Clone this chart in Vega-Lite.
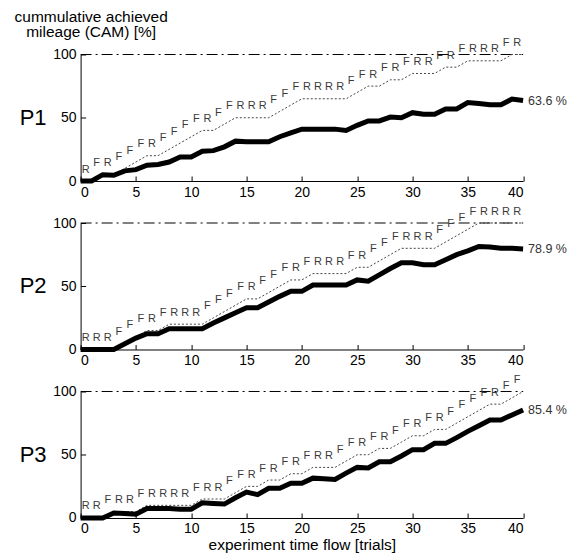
{
  "$schema": "https://vega.github.io/schema/vega-lite/v6.json",
  "background": "white",
  "padding": {"left": 13.6, "top": 9.5, "right": 5, "bottom": 5},
  "config": {
    "font": "Liberation Sans",
    "view": {"stroke": null},
    "axis": {"labelFont": "Liberation Sans", "labelFontSize": 14, "labelColor": "#000", "domainColor": "#000", "tickColor": "#000", "grid": false, "titleFont": "Liberation Sans", "titleFontWeight": "normal", "titleColor": "#000", "tickSize": -5, "domainWidth": 1, "tickWidth": 1}
  },
  "title": {"text": ["cummulative achieved", "mileage (CAM) [%]"], "anchor": "start", "align": "center", "fontSize": 15.5, "fontWeight": "normal", "font": "Liberation Sans", "color": "#000", "lineHeight": 16, "dx": 72, "offset": -4},
  "bounds": "flush",
  "spacing": 41.5,
  "datasets": {
    "d": [
      {"p":"P1","t":0,"a":0,"o":0},
      {"p":"P1","t":1,"a":0,"o":0,"l":"R"},
      {"p":"P1","t":2,"a":5,"o":5,"l":"F"},
      {"p":"P1","t":3,"a":4.5,"o":5,"l":"R"},
      {"p":"P1","t":4,"a":8,"o":10,"l":"F"},
      {"p":"P1","t":5,"a":9,"o":15,"l":"F"},
      {"p":"P1","t":6,"a":12.5,"o":20,"l":"F"},
      {"p":"P1","t":7,"a":13,"o":20,"l":"R"},
      {"p":"P1","t":8,"a":15,"o":25,"l":"F"},
      {"p":"P1","t":9,"a":19,"o":30,"l":"F"},
      {"p":"P1","t":10,"a":19,"o":35,"l":"F"},
      {"p":"P1","t":11,"a":23.5,"o":40,"l":"F"},
      {"p":"P1","t":12,"a":24,"o":40,"l":"R"},
      {"p":"P1","t":13,"a":27,"o":45,"l":"F"},
      {"p":"P1","t":14,"a":31.5,"o":50,"l":"F"},
      {"p":"P1","t":15,"a":31,"o":50,"l":"R"},
      {"p":"P1","t":16,"a":31,"o":50,"l":"R"},
      {"p":"P1","t":17,"a":31,"o":50,"l":"R"},
      {"p":"P1","t":18,"a":35,"o":55,"l":"F"},
      {"p":"P1","t":19,"a":38,"o":60,"l":"F"},
      {"p":"P1","t":20,"a":41,"o":65,"l":"F"},
      {"p":"P1","t":21,"a":41,"o":65,"l":"R"},
      {"p":"P1","t":22,"a":41,"o":65,"l":"R"},
      {"p":"P1","t":23,"a":41,"o":65,"l":"R"},
      {"p":"P1","t":24,"a":40,"o":65,"l":"R"},
      {"p":"P1","t":25,"a":44,"o":70,"l":"F"},
      {"p":"P1","t":26,"a":47.5,"o":75,"l":"F"},
      {"p":"P1","t":27,"a":47.5,"o":75,"l":"R"},
      {"p":"P1","t":28,"a":50.5,"o":80,"l":"F"},
      {"p":"P1","t":29,"a":50,"o":80,"l":"R"},
      {"p":"P1","t":30,"a":54,"o":85,"l":"F"},
      {"p":"P1","t":31,"a":52.7,"o":85,"l":"R"},
      {"p":"P1","t":32,"a":52.7,"o":85,"l":"R"},
      {"p":"P1","t":33,"a":57,"o":90,"l":"F"},
      {"p":"P1","t":34,"a":57,"o":90,"l":"R"},
      {"p":"P1","t":35,"a":62,"o":95,"l":"F"},
      {"p":"P1","t":36,"a":61.2,"o":95,"l":"R"},
      {"p":"P1","t":37,"a":60.3,"o":95,"l":"R"},
      {"p":"P1","t":38,"a":60.3,"o":95,"l":"R"},
      {"p":"P1","t":39,"a":64.8,"o":100,"l":"F"},
      {"p":"P1","t":40,"a":63.6,"o":100,"l":"R","e":"63.6 %"},
      {"p":"P2","t":0,"a":0,"o":0},
      {"p":"P2","t":1,"a":0,"o":0,"l":"R"},
      {"p":"P2","t":2,"a":0,"o":0,"l":"R"},
      {"p":"P2","t":3,"a":0,"o":0,"l":"R"},
      {"p":"P2","t":4,"a":4.5,"o":5,"l":"F"},
      {"p":"P2","t":5,"a":9,"o":10,"l":"F"},
      {"p":"P2","t":6,"a":12.5,"o":15,"l":"F"},
      {"p":"P2","t":7,"a":12.5,"o":15,"l":"R"},
      {"p":"P2","t":8,"a":16.5,"o":20,"l":"F"},
      {"p":"P2","t":9,"a":16.5,"o":20,"l":"R"},
      {"p":"P2","t":10,"a":16.5,"o":20,"l":"R"},
      {"p":"P2","t":11,"a":16.5,"o":20,"l":"R"},
      {"p":"P2","t":12,"a":21,"o":25,"l":"F"},
      {"p":"P2","t":13,"a":25,"o":30,"l":"F"},
      {"p":"P2","t":14,"a":29,"o":35,"l":"F"},
      {"p":"P2","t":15,"a":33,"o":40,"l":"F"},
      {"p":"P2","t":16,"a":33,"o":40,"l":"R"},
      {"p":"P2","t":17,"a":37.5,"o":45,"l":"F"},
      {"p":"P2","t":18,"a":42,"o":50,"l":"F"},
      {"p":"P2","t":19,"a":46,"o":55,"l":"F"},
      {"p":"P2","t":20,"a":46,"o":55,"l":"R"},
      {"p":"P2","t":21,"a":51,"o":60,"l":"F"},
      {"p":"P2","t":22,"a":51,"o":60,"l":"R"},
      {"p":"P2","t":23,"a":51,"o":60,"l":"R"},
      {"p":"P2","t":24,"a":51,"o":60,"l":"R"},
      {"p":"P2","t":25,"a":55,"o":65,"l":"F"},
      {"p":"P2","t":26,"a":54,"o":65,"l":"R"},
      {"p":"P2","t":27,"a":59,"o":70,"l":"F"},
      {"p":"P2","t":28,"a":64,"o":75,"l":"F"},
      {"p":"P2","t":29,"a":68.5,"o":80,"l":"F"},
      {"p":"P2","t":30,"a":68.5,"o":80,"l":"R"},
      {"p":"P2","t":31,"a":67,"o":80,"l":"R"},
      {"p":"P2","t":32,"a":67,"o":80,"l":"R"},
      {"p":"P2","t":33,"a":71,"o":85,"l":"F"},
      {"p":"P2","t":34,"a":75,"o":90,"l":"F"},
      {"p":"P2","t":35,"a":78,"o":95,"l":"F"},
      {"p":"P2","t":36,"a":81.5,"o":100,"l":"F"},
      {"p":"P2","t":37,"a":81,"o":100,"l":"R"},
      {"p":"P2","t":38,"a":80,"o":100,"l":"R"},
      {"p":"P2","t":39,"a":80,"o":100,"l":"R"},
      {"p":"P2","t":40,"a":79.5,"o":100,"l":"R","e":"78.9 %"},
      {"p":"P3","t":0,"a":0,"o":0},
      {"p":"P3","t":1,"a":0,"o":0,"l":"R"},
      {"p":"P3","t":2,"a":0,"o":0,"l":"R"},
      {"p":"P3","t":3,"a":4,"o":5,"l":"F"},
      {"p":"P3","t":4,"a":3.5,"o":5,"l":"R"},
      {"p":"P3","t":5,"a":3,"o":5,"l":"R"},
      {"p":"P3","t":6,"a":7.5,"o":10,"l":"F"},
      {"p":"P3","t":7,"a":7.5,"o":10,"l":"R"},
      {"p":"P3","t":8,"a":7.5,"o":10,"l":"R"},
      {"p":"P3","t":9,"a":7,"o":10,"l":"R"},
      {"p":"P3","t":10,"a":7,"o":10,"l":"R"},
      {"p":"P3","t":11,"a":12,"o":15,"l":"F"},
      {"p":"P3","t":12,"a":11.5,"o":15,"l":"R"},
      {"p":"P3","t":13,"a":11,"o":15,"l":"R"},
      {"p":"P3","t":14,"a":16,"o":20,"l":"F"},
      {"p":"P3","t":15,"a":20.5,"o":25,"l":"F"},
      {"p":"P3","t":16,"a":18.5,"o":25,"l":"R"},
      {"p":"P3","t":17,"a":23.5,"o":30,"l":"F"},
      {"p":"P3","t":18,"a":23.5,"o":30,"l":"R"},
      {"p":"P3","t":19,"a":27.5,"o":35,"l":"F"},
      {"p":"P3","t":20,"a":27.5,"o":35,"l":"R"},
      {"p":"P3","t":21,"a":31.5,"o":40,"l":"F"},
      {"p":"P3","t":22,"a":31,"o":40,"l":"R"},
      {"p":"P3","t":23,"a":30.5,"o":40,"l":"R"},
      {"p":"P3","t":24,"a":35.5,"o":45,"l":"F"},
      {"p":"P3","t":25,"a":40,"o":50,"l":"F"},
      {"p":"P3","t":26,"a":39.5,"o":50,"l":"R"},
      {"p":"P3","t":27,"a":44.5,"o":55,"l":"F"},
      {"p":"P3","t":28,"a":44.5,"o":55,"l":"R"},
      {"p":"P3","t":29,"a":49,"o":60,"l":"F"},
      {"p":"P3","t":30,"a":54,"o":65,"l":"F"},
      {"p":"P3","t":31,"a":54,"o":65,"l":"R"},
      {"p":"P3","t":32,"a":59,"o":70,"l":"F"},
      {"p":"P3","t":33,"a":59,"o":70,"l":"R"},
      {"p":"P3","t":34,"a":63.5,"o":75,"l":"F"},
      {"p":"P3","t":35,"a":68.5,"o":80,"l":"F"},
      {"p":"P3","t":36,"a":73,"o":85,"l":"F"},
      {"p":"P3","t":37,"a":77.5,"o":90,"l":"F"},
      {"p":"P3","t":38,"a":77.5,"o":90,"l":"R"},
      {"p":"P3","t":39,"a":81.5,"o":95,"l":"F"},
      {"p":"P3","t":40,"a":85.4,"o":100,"l":"F","e":"85.4 %"}
    ]
  },
  "vconcat": [
    {
      "width": 442.5, "height": 126.5,
      "data": {"name": "d"},
      "transform": [{"filter": "datum.p === 'P1'"}],
      "encoding": {"x": {"field": "t", "type": "quantitative", "scale": {"domain": [0, 40], "nice": false}, "axis": {"values": [0,5,10,15,20,25,30,35,40], "title": null, "labelPadding": 9}}},
      "layer": [
        {"transform": [{"filter": "datum.t == 0"}], "mark": {"type": "rule", "strokeDash": [11, 4, 2, 4], "strokeWidth": 1, "color": "#000"}, "encoding": {"x": {"datum": 0, "type": "quantitative"}, "x2": {"datum": 40}, "y": {"datum": 100, "type": "quantitative"}}},
        {"mark": {"type": "line", "strokeDash": [2, 2], "strokeWidth": 1, "color": "#444"}, "encoding": {"y": {"field": "o", "type": "quantitative"}}},
        {"mark": {"type": "line", "strokeWidth": 5, "color": "#000"}, "encoding": {
          "y": {"field": "a", "type": "quantitative", "scale": {"domain": [0, 100], "nice": false}, "axis": {"values": [0, 50, 100], "labelPadding": 9.5, "title": "P1", "titleAngle": 0, "titleFontSize": 22, "titleX": -48, "titleY": 63, "titleAlign": "center", "titleBaseline": "middle"}}}},
        {"transform": [{"filter": "datum.t > 0"}], "mark": {"type": "text", "fontSize": 11, "color": "#3a3a3a", "dx": -6, "dy": -11.5, "baseline": "middle", "align": "center"}, "encoding": {"y": {"field": "o", "type": "quantitative"}, "text": {"field": "l"}}},
        {"transform": [{"filter": "datum.e"}], "mark": {"type": "text", "fontSize": 12.5, "color": "#333", "dx": 5, "baseline": "middle", "align": "left"}, "encoding": {"y": {"field": "a", "type": "quantitative"}, "text": {"field": "e"}}}
      ]
    },
    {
      "width": 442.5, "height": 126.5,
      "data": {"name": "d"},
      "transform": [{"filter": "datum.p === 'P2'"}],
      "encoding": {"x": {"field": "t", "type": "quantitative", "scale": {"domain": [0, 40], "nice": false}, "axis": {"values": [0,5,10,15,20,25,30,35,40], "title": null, "labelPadding": 9}}},
      "layer": [
        {"transform": [{"filter": "datum.t == 0"}], "mark": {"type": "rule", "strokeDash": [11, 4, 2, 4], "strokeWidth": 1, "color": "#000"}, "encoding": {"x": {"datum": 0, "type": "quantitative"}, "x2": {"datum": 40}, "y": {"datum": 100, "type": "quantitative"}}},
        {"mark": {"type": "line", "strokeDash": [2, 2], "strokeWidth": 1, "color": "#444"}, "encoding": {"y": {"field": "o", "type": "quantitative"}}},
        {"mark": {"type": "line", "strokeWidth": 5, "color": "#000"}, "encoding": {
          "y": {"field": "a", "type": "quantitative", "scale": {"domain": [0, 100], "nice": false}, "axis": {"values": [0, 50, 100], "labelPadding": 9.5, "title": "P2", "titleAngle": 0, "titleFontSize": 22, "titleX": -48, "titleY": 63, "titleAlign": "center", "titleBaseline": "middle"}}}},
        {"transform": [{"filter": "datum.t > 0"}], "mark": {"type": "text", "fontSize": 11, "color": "#3a3a3a", "dx": -6, "dy": -11.5, "baseline": "middle", "align": "center"}, "encoding": {"y": {"field": "o", "type": "quantitative"}, "text": {"field": "l"}}},
        {"transform": [{"filter": "datum.e"}], "mark": {"type": "text", "fontSize": 12.5, "color": "#333", "dx": 5, "baseline": "middle", "align": "left"}, "encoding": {"y": {"field": "a", "type": "quantitative"}, "text": {"field": "e"}}}
      ]
    },
    {
      "width": 442.5, "height": 126.5,
      "data": {"name": "d"},
      "transform": [{"filter": "datum.p === 'P3'"}],
      "encoding": {"x": {"field": "t", "type": "quantitative", "scale": {"domain": [0, 40], "nice": false}, "axis": {"values": [0,5,10,15,20,25,30,35,40], "title": "experiment time flow [trials]", "titleFontSize": 15.5, "titlePadding": 2, "labelPadding": 9}}},
      "layer": [
        {"transform": [{"filter": "datum.t == 0"}], "mark": {"type": "rule", "strokeDash": [11, 4, 2, 4], "strokeWidth": 1, "color": "#000"}, "encoding": {"x": {"datum": 0, "type": "quantitative"}, "x2": {"datum": 40}, "y": {"datum": 100, "type": "quantitative"}}},
        {"mark": {"type": "line", "strokeDash": [2, 2], "strokeWidth": 1, "color": "#444"}, "encoding": {"y": {"field": "o", "type": "quantitative"}}},
        {"mark": {"type": "line", "strokeWidth": 5, "color": "#000"}, "encoding": {
          "y": {"field": "a", "type": "quantitative", "scale": {"domain": [0, 100], "nice": false}, "axis": {"values": [0, 50, 100], "labelPadding": 9.5, "title": "P3", "titleAngle": 0, "titleFontSize": 22, "titleX": -48, "titleY": 63, "titleAlign": "center", "titleBaseline": "middle"}}}},
        {"transform": [{"filter": "datum.t > 0"}], "mark": {"type": "text", "fontSize": 11, "color": "#3a3a3a", "dx": -6, "dy": -11.5, "baseline": "middle", "align": "center"}, "encoding": {"y": {"field": "o", "type": "quantitative"}, "text": {"field": "l"}}},
        {"transform": [{"filter": "datum.e"}], "mark": {"type": "text", "fontSize": 12.5, "color": "#333", "dx": 5, "baseline": "middle", "align": "left"}, "encoding": {"y": {"field": "a", "type": "quantitative"}, "text": {"field": "e"}}}
      ]
    }
  ]
}
